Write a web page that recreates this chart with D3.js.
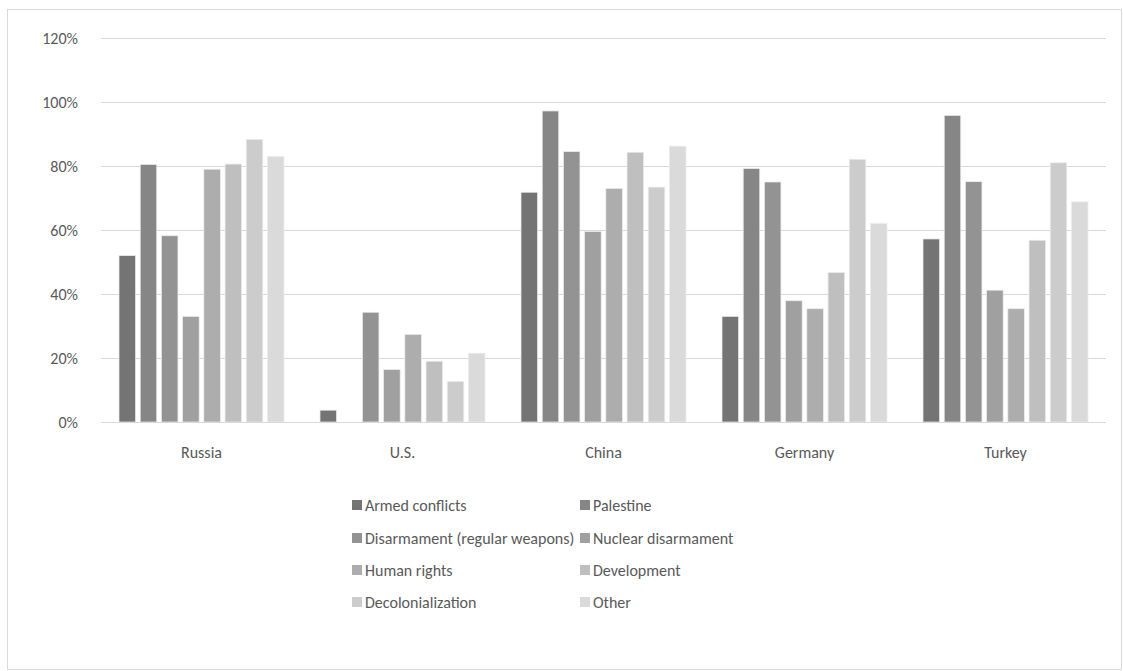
<!DOCTYPE html>
<html>
<head>
<meta charset="utf-8">
<script src="https://cdn.jsdelivr.net/npm/d3@7"></script>
<style>
  body { margin: 0; background: #fff; }
  text { font-family: Carlito, Calibri, Lato, "Liberation Sans", sans-serif; fill: #595959; }
</style>
</head>
<body>
<svg id="chart" width="1123" height="671"></svg>
<script>
const countries = ['Russia', 'U.S.', 'China', 'Germany', 'Turkey'];
const topics = ['Armed conflicts', 'Palestine', 'Disarmament (regular weapons)', 'Nuclear disarmament',
                'Human rights', 'Development', 'Decolonialization', 'Other'];
// values in %, one array per topic, in the order of countries
const armedConflicts = [52, 3.7, 71.8, 33, 57.2];
const palestine = [80.5, 0, 97.2, 79.2, 95.8];
const disarmRegular = [58.2, 34.3, 84.5, 75, 75.1];
const nuclearDisarm = [33, 16.4, 59.5, 37.9, 41.2];
const humanRights = [79, 27.4, 73, 35.4, 35.4];
const development = [80.6, 19, 84.3, 46.7, 56.8];
const decolonialization = [88.3, 12.7, 73.4, 82.1, 81];
const other = [83, 21.5, 86.2, 62, 68.8];
const yTicks = [0, 20, 40, 60, 80, 100, 120];

const seriesValues = [armedConflicts, palestine, disarmRegular, nuclearDisarm,
                      humanRights, development, decolonialization, other];
const colors = ['#747474', '#868686', '#939393', '#a0a0a0', '#adadad', '#bfbfbf', '#cccccc', '#dadada'];

const svg = d3.select('#chart');

// outer frame
svg.append('rect')
    .attr('x', 7.5).attr('y', 9.5)
    .attr('width', 1114).attr('height', 660)
    .attr('fill', 'none').attr('stroke', '#d9d9d9');

const x0 = d3.scaleBand().domain(countries).range([101, 1106]).padding(0);
const x1 = d3.scaleBand().domain(d3.range(topics.length)).range([18, 183]).paddingInner(0.22).paddingOuter(0);
const y = d3.scaleLinear().domain([0, 120]).range([422, 38]);

// gridlines
svg.append('g').selectAll('line')
    .data(yTicks)
    .join('line')
    .attr('x1', 101).attr('x2', 1106)
    .attr('y1', d => Math.round(y(d)) + 0.5)
    .attr('y2', d => Math.round(y(d)) + 0.5)
    .attr('stroke', '#d9d9d9')
    .attr('stroke-width', 1);

// y labels
svg.append('g').selectAll('text')
    .data(yTicks)
    .join('text')
    .attr('x', 78)
    .attr('y', d => y(d))
    .attr('dy', '0.35em')
    .attr('text-anchor', 'end')
    .style('font-size', '16px')
    .text(d => d + '%');

// bars
const groups = svg.append('g').selectAll('g')
    .data(countries)
    .join('g')
    .attr('transform', d => `translate(${x0(d)},0)`);

groups.selectAll('rect')
    .data((d, ci) => seriesValues.map((vals, si) => ({ si: si, v: vals[ci] })))
    .join('rect')
    .attr('x', d => x1(d.si))
    .attr('width', x1.bandwidth())
    .attr('y', d => y(d.v))
    .attr('height', d => y(0) - y(d.v))
    .attr('fill', d => colors[d.si])
    .attr('stroke', d => d.v > 0 ? '#ececec' : 'none')
    .attr('stroke-width', 0.75);

// baseline
svg.append('line')
    .attr('x1', 101).attr('x2', 1106)
    .attr('y1', 422.5).attr('y2', 422.5)
    .attr('stroke', '#d9d9d9');

// category labels
svg.append('g').selectAll('text')
    .data(countries)
    .join('text')
    .attr('x', d => x0(d) + x0.bandwidth() / 2)
    .attr('y', 452)
    .attr('dy', '0.35em')
    .attr('text-anchor', 'middle')
    .style('font-size', '16px')
    .text(d => d);

// legend, two columns
const legendCols = [352, 580];
const legendRows = [505, 538, 570, 602];
const legend = svg.append('g').selectAll('g')
    .data(topics)
    .join('g')
    .attr('transform', (d, i) => `translate(${legendCols[i % 2]},${legendRows[Math.floor(i / 2)]})`);

legend.append('rect')
    .attr('x', 0).attr('y', -5)
    .attr('width', 10).attr('height', 10)
    .attr('fill', (d, i) => colors[i]);

legend.append('text')
    .attr('x', 13)
    .attr('y', 0)
    .attr('dy', '0.35em')
    .style('font-size', '16px')
    .text(d => d);
</script>
</body>
</html>
